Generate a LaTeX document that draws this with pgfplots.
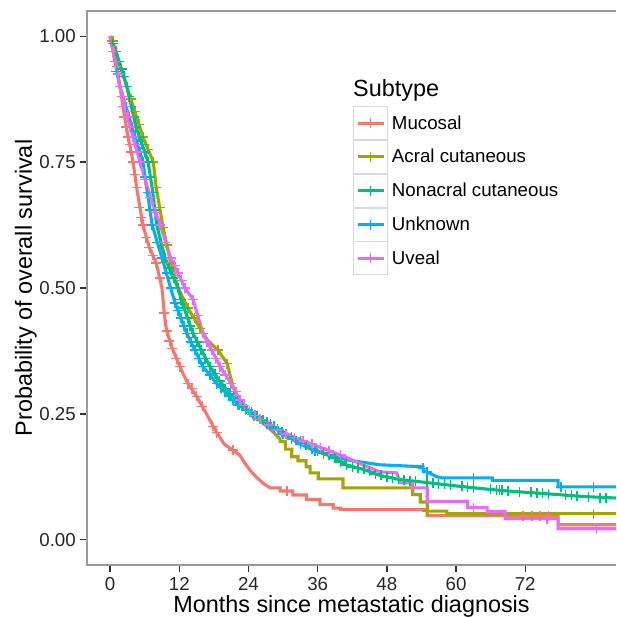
\documentclass[border=0pt]{standalone}
\usepackage{fontspec}
\setmainfont{Liberation Sans}
\usepackage{pgfplots}
\pgfplotsset{compat=1.18}
\definecolor{cMuc}{HTML}{F8766D}
\definecolor{cAcr}{HTML}{A3A500}
\definecolor{cNon}{HTML}{00BF7D}
\definecolor{cUnk}{HTML}{00B0F6}
\definecolor{cUve}{HTML}{E76BF3}
\definecolor{cBorder}{HTML}{9A9A9A}
\pgfplotsset{
  curve/.style={#1, sharp plot, line width=3.1pt, line join=miter},
  cens/.style={#1, only marks, mark=+, mark size=5pt, mark options={line width=1.5pt}, forget plot},
}
\begin{document}
\begin{tikzpicture}
\useasboundingbox (-87pt,-53pt) rectangle (529pt,565pt);
\begin{axis}[
  at={(0,0)}, anchor=south west,
  width=529pt, height=554pt, scale only axis,
  xmin=-4, xmax=87.74, ymin=-0.05, ymax=1.05,
  clip=false,
  axis line style={draw=none},
  tick pos=left, tick align=outside, major tick length=7pt,
  tick style={color=black!80, line width=1.3pt},
  xtick={0,12,24,36,48,60,72},
  xticklabels={0,12,24,36,48,60,72},
  ytick={0,0.25,0.5,0.75,1},
  yticklabels={0.00,0.25,0.50,0.75,1.00},
  /pgf/number format/assume math mode=true,
  xticklabel style={font=\fontsize{18.7}{20}\selectfont, inner sep=0pt, yshift=-5pt, text=black!85},
  yticklabel style={font=\fontsize{18.7}{20}\selectfont, inner sep=0pt, xshift=-4pt, text=black!85},
  xlabel={Months since metastatic diagnosis},
  ylabel={Probability of overall survival},
  every axis x label/.style={at={(axis description cs:0.5,-0.0866)}, anchor=base, font=\fontsize{23.4}{25}\selectfont},
  every axis y label/.style={at={(axis description cs:-0.104,0.5)}, rotate=90, anchor=base, font=\fontsize{23.4}{25}\selectfont},
  legend style={at={(rel axis cs:0.5028,0.8285)}, anchor=north west, draw=none, fill=none, inner sep=0pt, row sep=0pt, column sep=4pt, nodes={inner sep=0pt, font=\fontsize{18.7}{20}\selectfont}},
  legend cell align=left,
  legend image code/.code={
    \draw[draw=black!15, line width=0.8pt, fill=white] (0pt,-16.5pt) rectangle (34pt,16.5pt);
    \draw[#1, mark=none, line width=3.1pt] (4pt,0pt) -- (30pt,0pt);
    \draw[#1, mark=none, line width=1.3pt] (17pt,-5pt) -- (17pt,5pt);
  },
]
% ---- Mucosal
\addplot[curve=cMuc] coordinates {
(0,1) (0.8,0.97) (1.7,0.9) (2.8,0.82) (4.0,0.75) (4.6,0.70) (5.7,0.625) (6.8,0.58) (8.0,0.55) (9.0,0.50) (9.4,0.45) (9.8,0.415) (10.8,0.38) (12.1,0.344) (13.5,0.31) (15.0,0.285) (16.0,0.265) (17.2,0.24) (18.5,0.213) (19.8,0.19) (21.3,0.178) (22.5,0.168) (23.5,0.15) (24.5,0.135) (25.5,0.123) (26.8,0.11) (27.8,0.103)
(29.5,0.103) (29.5,0.097) (31.7,0.097) (31.7,0.089) (34.1,0.089) (34.1,0.08) (36.4,0.08) (36.4,0.07) (38.7,0.07) (38.7,0.063) (40,0.063) (40,0.06) (55,0.06) (55,0.048) (77.7,0.048) (77.7,0.03) (87.74,0.03)};
\addlegendentry{Mucosal}
% ---- Acral
\addplot[curve=cAcr] coordinates {
(0,1) (1,0.97) (2.9,0.9) (5.7,0.8) (7.5,0.75) (8.0,0.7) (9.2,0.62) (10.5,0.55) (11.8,0.5) (13.5,0.46) (15.6,0.42) (17,0.395) (18.7,0.377) (20.3,0.35) (21.2,0.31) (22.2,0.275) (22.2,0.268) (24,0.255) (26,0.237) (28,0.217) (29.5,0.2)
(29.5,0.195) (30.4,0.195) (30.4,0.18) (31.5,0.18) (31.5,0.165) (32.6,0.165) (32.6,0.157) (34.0,0.157) (34,0.145) (34.7,0.145) (34.7,0.133) (36.1,0.133) (36.1,0.121) (40.4,0.121) (40.4,0.103) (52.5,0.103) (52.5,0.09) (53.8,0.09) (53.8,0.075) (55,0.075) (55,0.057) (58.4,0.057) (58.4,0.052) (87.74,0.052)};
\addlegendentry{Acral cutaneous}
% ---- Nonacral
\addplot[curve=cNon] coordinates {
(0,1) (1.0,0.97) (2.9,0.9) (4.5,0.82) (6.6,0.75) (7.4,0.69) (8.1,0.625) (9.5,0.56) (11.0,0.52) (11.8,0.5) (12.3,0.477) (14.4,0.41) (17.3,0.344) (19.0,0.315) (20.8,0.29) (23.0,0.265) (26.5,0.238) (29.0,0.22) (32.4,0.2) (35.2,0.18) (38.1,0.168) (41.1,0.148) (43.9,0.14) (46.8,0.128) (50,0.12) (55.5,0.113) (60,0.107) (65.9,0.1) (70,0.096) (77.5,0.09) (82,0.086) (87.74,0.083)};
\addlegendentry{Nonacral cutaneous}
% ---- Unknown
\addplot[curve=cUnk] coordinates {
(0,1) (1.7,0.9) (3.8,0.82) (5.7,0.75) (7.3,0.625) (9,0.56) (10.5,0.5) (11.3,0.47) (13.3,0.41) (16.1,0.344) (18.5,0.31) (21.3,0.278) (23.5,0.258) (26,0.239) (28.5,0.222) (30,0.21) (33,0.19) (35.5,0.177) (38.6,0.165) (42,0.157) (46.8,0.149) (54.3,0.145) (54.3,0.138) (55.5,0.132) (56.5,0.126) (57.5,0.123) (66.3,0.123) (66.3,0.118) (77.7,0.118) (77.7,0.105) (87.74,0.105)};
\addlegendentry{Unknown}
% ---- Uveal
\addplot[curve=cUve] coordinates {
(0,1) (0.9,0.95) (1.7,0.9) (3.5,0.82) (5.2,0.75) (7.0,0.68) (8.7,0.625) (10.5,0.56) (13.0,0.5) (14.4,0.477) (16.1,0.41) (19.1,0.344) (21,0.31) (22.5,0.278) (24.2,0.255) (26,0.239) (29,0.218) (32,0.203) (35,0.19) (38,0.177) (41.1,0.163) (44,0.148) (46.8,0.135) (49.7,0.133) (50.3,0.113) (52.5,0.113) (52.5,0.103) (55,0.103) (55,0.076) (62,0.076) (62,0.064) (65.4,0.064) (65.4,0.056) (68.5,0.056) (68.5,0.042) (77.7,0.042) (77.7,0.022) (87.74,0.022)};
\addlegendentry{Uveal}
% ---- censoring marks
\addplot[cens=cMuc] coordinates {
(0.3,0.99) (0.8,0.97) (1.2,0.94) (1.7,0.9) (2.0,0.88) (2.2,0.86) (2.5,0.84) (2.8,0.82) (3.1,0.80) (3.4,0.785) (3.7,0.77) (4.0,0.75) (4.3,0.725) (4.6,0.70) (5.1,0.66) (5.4,0.64) (5.7,0.625) (6.2,0.60) (6.8,0.58) (7.4,0.565) (8.0,0.55) (8.6,0.52) (9.4,0.45) (9.8,0.415) (10.3,0.395) (10.8,0.38) (11.5,0.36) (12.1,0.344) (13.5,0.31) (14.2,0.30) (15.0,0.285) (16.0,0.265) (17.8,0.225) (18.5,0.213) (21.3,0.178) (30.7,0.097) (71.6,0.048) (73.2,0.048) (74.6,0.048) (76,0.048)};
\addplot[cens=cAcr] coordinates {
(0.5,0.99) (1,0.97) (1.5,0.95) (2,0.935) (2.9,0.9) (3.6,0.875) (4.3,0.85) (5.0,0.825) (5.7,0.8) (6.6,0.775) (7.5,0.75) (8.0,0.7) (8.6,0.66) (9.2,0.62) (9.8,0.585) (10.5,0.55) (11.2,0.525) (11.8,0.5) (13.5,0.46) (14.6,0.44) (15.6,0.42) (18.7,0.377) (20.3,0.35) (22.2,0.268) (25,0.246) (55,0.057) (83.8,0.052)};
\addplot[cens=cNon] coordinates {
(0.5,0.985) (1,0.97) (1.5,0.95) (2,0.935) (2.4,0.92) (2.9,0.9) (3.3,0.88) (3.7,0.86) (4.1,0.84) (4.5,0.82) (5.0,0.80) (5.5,0.785) (6.0,0.77) (6.6,0.75) (7.0,0.72) (7.4,0.69) (7.8,0.655) (8.1,0.625) (8.8,0.59) (9.5,0.56) (10.3,0.54) (11,0.52) (11.8,0.5) (12.3,0.477) (12.9,0.46) (13.4,0.44) (13.9,0.425) (14.4,0.41) (15.1,0.393) (15.8,0.377) (16.5,0.36) (17.3,0.344) (18.2,0.33) (19,0.315) (19.9,0.3) (20.8,0.29) (21.4,0.283) (22,0.276) (23,0.265) (23.7,0.259) (24.5,0.253) (25.5,0.245) (26.5,0.238) (27.2,0.233) (27.8,0.229) (28.4,0.225) (29,0.22) (29.8,0.215) (30.5,0.211) (31.5,0.205)
(33,0.196) (34,0.189) (35,0.181) (36,0.177) (37,0.173) (38,0.168) (39,0.162) (40,0.155) (41,0.149) (42,0.145) (43,0.142) (44,0.14) (45,0.136) (46,0.131) (47,0.128) (48,0.125) (49,0.122) (50,0.12) (51,0.119) (52,0.117) (53,0.116) (55,0.114) (56,0.112) (57,0.111) (58,0.11) (59,0.108) (61,0.106) (62,0.105) (63,0.103) (66,0.1) (67,0.099) (67.5,0.099) (68,0.098) (69,0.097) (71,0.095) (73,0.094) (74,0.093) (75,0.092) (76,0.091) (79,0.089) (80,0.088) (81,0.087) (83,0.085) (85,0.084) (86,0.084)};
\addplot[cens=cUnk] coordinates {
(0.5,0.97) (1.1,0.93) (1.7,0.9) (2.3,0.88) (2.8,0.86) (3.3,0.84) (3.8,0.82) (4.3,0.80) (4.8,0.785) (5.2,0.77) (5.7,0.75) (6.1,0.72) (6.5,0.69) (6.9,0.655) (7.3,0.625) (8.2,0.59) (9,0.56) (9.8,0.53) (10.5,0.5) (11.3,0.47) (11.8,0.455) (12.3,0.44) (12.8,0.425) (13.3,0.41) (14.0,0.393) (14.7,0.377) (15.4,0.36) (16.1,0.344) (17.3,0.327) (18.5,0.31) (19.2,0.302) (19.9,0.294) (20.6,0.286) (21.3,0.278) (22.4,0.268) (23.5,0.258) (24.7,0.249) (26,0.239) (27.2,0.23) (28.5,0.222) (30,0.21) (31.5,0.2) (33,0.19) (35.5,0.177) (37,0.171) (54.3,0.142) (55,0.135) (63,0.123) (78.2,0.105) (83.8,0.105)};
\addplot[cens=cUve] coordinates {
(0.5,0.97) (0.9,0.95) (1.3,0.925) (1.7,0.9) (2.2,0.88) (2.6,0.86) (3.1,0.84) (3.5,0.82) (3.9,0.80) (4.3,0.785) (4.8,0.77) (5.2,0.75) (6.1,0.715) (7.0,0.68) (7.8,0.65) (8.7,0.625) (9.6,0.59) (10.5,0.56) (11.2,0.545) (11.8,0.53) (12.4,0.515) (13,0.5) (14.4,0.477) (15.2,0.445) (16.1,0.41) (16.8,0.393) (17.6,0.377) (18.3,0.36) (19.1,0.344) (20,0.327) (21,0.31) (21.8,0.294) (22.5,0.278) (23.3,0.267) (24.2,0.255) (25.1,0.247) (26,0.239) (27.5,0.228) (29,0.218) (30.5,0.21) (32,0.203) (33.5,0.196) (35,0.19) (36.5,0.183) (38,0.177) (40,0.168) (63,0.064) (75.8,0.042) (84.4,0.022)};
% ---- panel border and legend title
\draw[cBorder, line width=1.3pt] (rel axis cs:1,1) -- (rel axis cs:0,1) -- (rel axis cs:0,0) -- (rel axis cs:1,0);
\node[anchor=base west, font=\fontsize{23.4}{25}\selectfont, inner sep=0pt] at (rel axis cs:0.5028,0.8448) {Subtype};
\end{axis}
\end{tikzpicture}
\end{document}
